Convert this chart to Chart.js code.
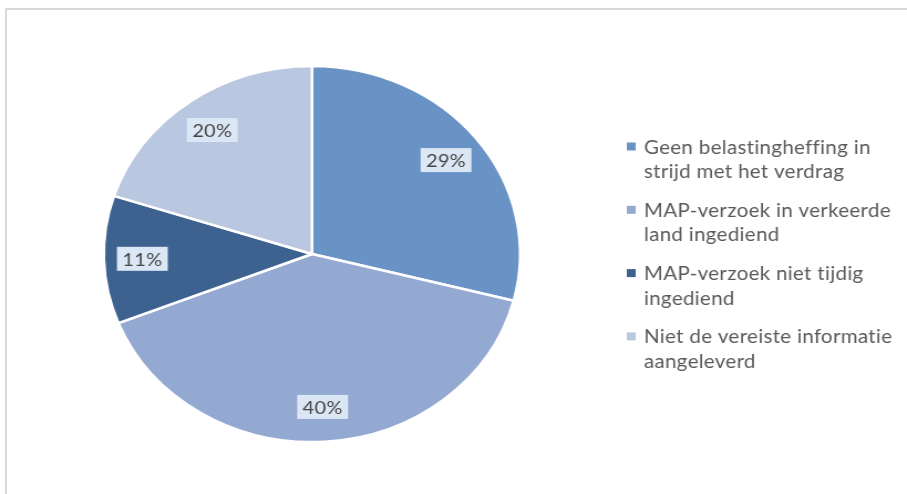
<!DOCTYPE html>
<html>
<head>
<meta charset="utf-8">
<script src="https://cdn.jsdelivr.net/npm/chart.js@4.4.1/dist/chart.umd.min.js"></script>
<style>
  html, body { margin:0; padding:0; background:#ffffff; overflow:hidden; }
  #frame { position:absolute; left:5px; top:8px; width:910px; height:500px;
           border-top:2px solid #d9d9d9; border-left:2px solid #d9d9d9; }
  #wrap { position:absolute; left:0; top:0; width:819px; height:494px;
          transform:scaleX(1.1074); transform-origin:0 0; }
</style>
</head>
<body>
<div id="frame"></div>
<div id="wrap"><canvas id="c" width="819" height="494"></canvas></div>
<script>
// ---- data ----
const categories = [
  ["Geen belastingheffing in", "strijd met het verdrag"],
  ["MAP-verzoek in verkeerde", "land ingediend"],
  ["MAP-verzoek niet tijdig", "ingediend"],
  ["Niet de vereiste informatie", "aangeleverd"]
];
const values = [29, 40, 11, 20];
const colors = ["#6a93c5", "#94a9d2", "#3e6290", "#bac7e0"];

// data labels drawn inside the slices
const sliceLabels = {
  id: 'sliceLabels',
  afterDatasetsDraw(chart) {
    const ctx = chart.ctx;
    const meta = chart.getDatasetMeta(0);
    const data = chart.data.datasets[0].data;
    const total = data.reduce((a, b) => a + b, 0);
    ctx.save();
    ctx.font = '18px Lato';
    ctx.letterSpacing = '0.2px';
    ctx.textAlign = 'center';
    ctx.textBaseline = 'middle';
    meta.data.forEach((arc, i) => {
      const p = arc.getProps(['x', 'y', 'startAngle', 'endAngle', 'outerRadius'], true);
      const mid = (p.startAngle + p.endAngle) / 2;
      const d = p.outerRadius * 0.815;
      const cx = p.x + Math.cos(mid) * d;
      const cy = p.y + Math.sin(mid) * d;
      const txt = Math.round(data[i] / total * 100) + '%';
      const w = ctx.measureText(txt).width + 10;
      const h = 24;
      ctx.fillStyle = '#dce7f5';
      ctx.fillRect(cx - w / 2, cy - h / 2, w, h);
      ctx.fillStyle = '#454545';
      ctx.fillText(txt, cx, cy + 1);
    });
    ctx.restore();
  }
};

// legend drawn at the right side
const sideLegend = {
  id: 'sideLegend',
  afterDraw(chart) {
    const ctx = chart.ctx;
    const labels = chart.data.labels;
    const bg = chart.data.datasets[0].backgroundColor;
    ctx.save();
    ctx.font = '18.5px Lato';
    ctx.letterSpacing = '0.3px';
    ctx.textBaseline = 'alphabetic';
    ctx.textAlign = 'left';
    let y = 153.5;
    labels.forEach((lines, i) => {
      ctx.fillStyle = bg[i];
      ctx.fillRect(566, y - 11, 8, 8);
      ctx.fillStyle = '#595959';
      lines.forEach((ln, j) => {
        ctx.fillText(ln, 581.5, y + j * 24.5);
      });
      y += 63.3;
    });
    ctx.restore();
  }
};

new Chart(document.getElementById('c'), {
  type: 'pie',
  data: {
    labels: categories,
    datasets: [{
      data: values,
      backgroundColor: colors,
      borderColor: '#ffffff',
      borderWidth: 2.5,
      radius: 188,
      hoverOffset: 0
    }]
  },
  options: {
    responsive: false,
    animation: false,
    events: [],
    layout: { padding: { left: 93.7, right: 349.3, top: 66, bottom: 52 } },
    plugins: {
      legend: { display: false },
      tooltip: { enabled: false },
      title: { display: false }
    }
  },
  plugins: [sliceLabels, sideLegend]
});
</script>
</body>
</html>
